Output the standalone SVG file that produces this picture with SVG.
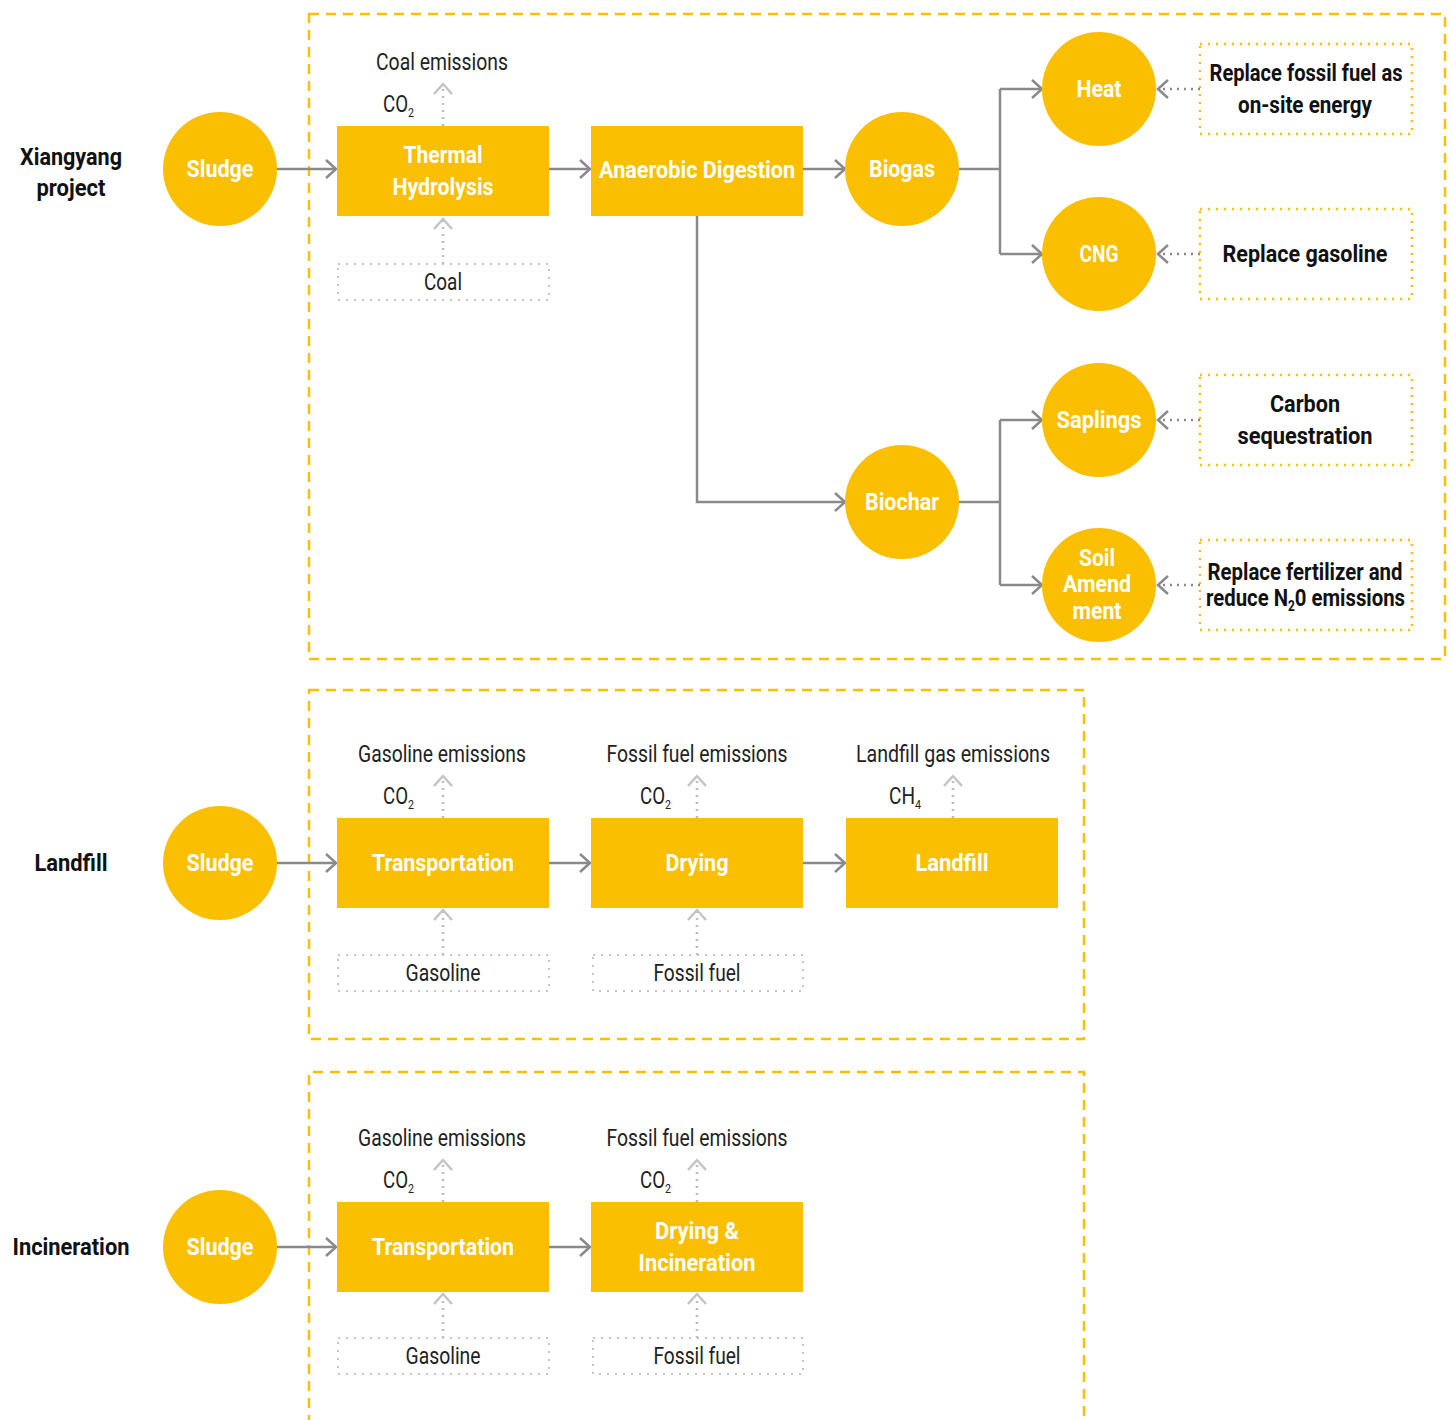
<svg xmlns="http://www.w3.org/2000/svg" width="1453" height="1420" viewBox="0 0 1453 1420">
<style>
.frame{fill:none;stroke:#F9BF00;stroke-width:2.5;stroke-dasharray:10 7}
.node{fill:#F9BF00}
.wt{font-family:Roboto,"Liberation Sans",sans-serif;font-weight:bold;font-size:24px;fill:#fff;text-anchor:middle}
.bt{font-family:Roboto,"Liberation Sans",sans-serif;font-weight:bold;font-size:24px;fill:#111;text-anchor:middle}
.rt{font-family:Roboto,"Liberation Sans",sans-serif;font-size:23px;fill:#222;text-anchor:middle}
.chem{font-family:Roboto,"Liberation Sans",sans-serif;font-size:23px;fill:#222;text-anchor:start}
.s{font-size:13px}
.conn{fill:none;stroke:#8a8a8a;stroke-width:2.5}
.dot{fill:none;stroke:#bdbdbd;stroke-width:2.5;stroke-dasharray:2 5}
.dotd{fill:none;stroke:#8a8a8a;stroke-width:2.5;stroke-dasharray:2 5}
.gbox{fill:none;stroke:#c4c4c4;stroke-width:2;stroke-dasharray:2 6}
.ybox{fill:none;stroke:#F9BF00;stroke-width:2.5;stroke-dasharray:2 6}
</style>
<defs>
<marker id="ah" markerUnits="userSpaceOnUse" viewBox="-14 -12 16 24" refX="0" refY="0" markerWidth="16" markerHeight="24" orient="auto">
<path d="M-10,-9 L0,0 L-10,9" fill="none" stroke="#8a8a8a" stroke-width="2.5"/>
</marker>
<marker id="ahl" markerUnits="userSpaceOnUse" viewBox="-14 -12 16 24" refX="0" refY="0" markerWidth="16" markerHeight="24" orient="auto">
<path d="M-10,-9 L0,0 L-10,9" fill="none" stroke="#c4c4c4" stroke-width="2.5"/>
</marker>
</defs>
<rect width="1453" height="1420" fill="#fff"/>

<!-- frames -->
<rect class="frame" x="309" y="14" width="1136" height="645"/>
<rect class="frame" x="309" y="690" width="775" height="349"/>
<path class="frame" d="M309,1425 L309,1072 L1084,1072 L1084,1425"/>

<!-- section labels -->
<g id="label-xiangyang"><text class="bt" x="71" y="165" textLength="102" lengthAdjust="spacingAndGlyphs">Xiangyang</text><text class="bt" x="71" y="196" textLength="69" lengthAdjust="spacingAndGlyphs">project</text></g>
<g id="label-landfill"><text class="bt" x="71" y="871" textLength="73" lengthAdjust="spacingAndGlyphs">Landfill</text></g>
<g id="label-incineration"><text class="bt" x="71" y="1255" textLength="117" lengthAdjust="spacingAndGlyphs">Incineration</text></g>

<!-- connectors -->
<g id="connectors">
<path class="conn" d="M277,169 H336" marker-end="url(#ah)"/>
<path class="conn" d="M549,169 H590" marker-end="url(#ah)"/>
<path class="conn" d="M803,169 H845" marker-end="url(#ah)"/>
<path class="conn" d="M959,169 H1000"/>
<path class="conn" d="M1000,89 V254"/>
<path class="conn" d="M1000,89 H1042" marker-end="url(#ah)"/>
<path class="conn" d="M1000,254 H1042" marker-end="url(#ah)"/>
<path class="conn" d="M697,216 V502 H845" marker-end="url(#ah)"/>
<path class="conn" d="M959,502 H1000"/>
<path class="conn" d="M1000,420 V585"/>
<path class="conn" d="M1000,420 H1042" marker-end="url(#ah)"/>
<path class="conn" d="M1000,585 H1042" marker-end="url(#ah)"/>
<path class="dotd" d="M1200,89 H1158" marker-end="url(#ah)"/>
<path class="dotd" d="M1200,254 H1158" marker-end="url(#ah)"/>
<path class="dotd" d="M1200,420 H1158" marker-end="url(#ah)"/>
<path class="dotd" d="M1200,585 H1158" marker-end="url(#ah)"/>
<path class="dot" d="M443,126 V84" marker-end="url(#ahl)"/>
<path class="dot" d="M443,264 V219" marker-end="url(#ahl)"/>

<path class="conn" d="M277,863 H336" marker-end="url(#ah)"/>
<path class="conn" d="M549,863 H590" marker-end="url(#ah)"/>
<path class="conn" d="M803,863 H845" marker-end="url(#ah)"/>
<path class="dot" d="M443,818 V776" marker-end="url(#ahl)"/>
<path class="dot" d="M697,818 V776" marker-end="url(#ahl)"/>
<path class="dot" d="M953,818 V776" marker-end="url(#ahl)"/>
<path class="dot" d="M443,955 V910" marker-end="url(#ahl)"/>
<path class="dot" d="M697,955 V910" marker-end="url(#ahl)"/>

<path class="conn" d="M277,1247 H336" marker-end="url(#ah)"/>
<path class="conn" d="M549,1247 H590" marker-end="url(#ah)"/>
<path class="dot" d="M443,1202 V1160" marker-end="url(#ahl)"/>
<path class="dot" d="M697,1202 V1160" marker-end="url(#ahl)"/>
<path class="dot" d="M443,1338 V1294" marker-end="url(#ahl)"/>
<path class="dot" d="M697,1338 V1294" marker-end="url(#ahl)"/>
</g>

<!-- Section 1 nodes -->
<g id="sludge1"><circle class="node" cx="220" cy="169" r="57"/><text class="wt" x="220" y="177" textLength="67" lengthAdjust="spacingAndGlyphs">Sludge</text></g>
<g id="coal-emissions"><text class="rt" x="442" y="70" textLength="132" lengthAdjust="spacingAndGlyphs">Coal emissions</text>
<text class="chem" x="383" y="112" textLength="31" lengthAdjust="spacingAndGlyphs">CO<tspan class="s" dy="5">2</tspan></text></g>
<g id="thermal-hydrolysis"><rect class="node" x="337" y="126" width="212" height="90"/><text class="wt" x="443" y="163" textLength="79" lengthAdjust="spacingAndGlyphs">Thermal</text><text class="wt" x="443" y="195" textLength="101" lengthAdjust="spacingAndGlyphs">Hydrolysis</text></g>
<g id="coal"><rect class="gbox" x="338" y="264" width="211" height="36"/><text class="rt" x="443" y="290" textLength="38" lengthAdjust="spacingAndGlyphs">Coal</text></g>
<g id="anaerobic-digestion"><rect class="node" x="591" y="126" width="212" height="90"/><text class="wt" x="697" y="178" textLength="196" lengthAdjust="spacingAndGlyphs">Anaerobic Digestion</text></g>
<g id="biogas"><circle class="node" cx="902" cy="169" r="57"/><text class="wt" x="902" y="177" textLength="66" lengthAdjust="spacingAndGlyphs">Biogas</text></g>
<g id="heat"><circle class="node" cx="1099" cy="89" r="57"/><text class="wt" x="1099" y="97" textLength="45" lengthAdjust="spacingAndGlyphs">Heat</text></g>
<g id="cng"><circle class="node" cx="1099" cy="254" r="57"/><text class="wt" x="1099" y="262" textLength="39" lengthAdjust="spacingAndGlyphs">CNG</text></g>
<g id="biochar"><circle class="node" cx="902" cy="502" r="57"/><text class="wt" x="902" y="510" textLength="74" lengthAdjust="spacingAndGlyphs">Biochar</text></g>
<g id="saplings"><circle class="node" cx="1099" cy="420" r="57"/><text class="wt" x="1099" y="428" textLength="85" lengthAdjust="spacingAndGlyphs">Saplings</text></g>
<g id="soil-amendment"><circle class="node" cx="1099" cy="585" r="57"/><text class="wt" x="1097" y="566" textLength="36" lengthAdjust="spacingAndGlyphs">Soil</text><text class="wt" x="1097" y="592" textLength="68" lengthAdjust="spacingAndGlyphs">Amend</text><text class="wt" x="1097" y="619" textLength="49" lengthAdjust="spacingAndGlyphs">ment</text></g>
<g id="replace-fossil"><rect class="ybox" x="1200" y="44" width="212" height="90"/><text class="bt" x="1306" y="81" textLength="193" lengthAdjust="spacingAndGlyphs">Replace fossil fuel as</text><text class="bt" x="1305" y="113" textLength="134" lengthAdjust="spacingAndGlyphs">on-site energy</text></g>
<g id="replace-gasoline"><rect class="ybox" x="1200" y="209" width="212" height="90"/><text class="bt" x="1305" y="262" textLength="165" lengthAdjust="spacingAndGlyphs">Replace gasoline</text></g>
<g id="carbon-seq"><rect class="ybox" x="1200" y="375" width="212" height="90"/><text class="bt" x="1305" y="412" textLength="70" lengthAdjust="spacingAndGlyphs">Carbon</text><text class="bt" x="1305" y="444" textLength="135" lengthAdjust="spacingAndGlyphs">sequestration</text></g>
<g id="replace-fertilizer"><rect class="ybox" x="1200" y="540" width="212" height="90"/><text class="bt" x="1305" y="580" textLength="195" lengthAdjust="spacingAndGlyphs">Replace fertilizer and</text>
<text class="bt" x="1206" y="606" style="text-anchor:start" textLength="199" lengthAdjust="spacingAndGlyphs">reduce N<tspan dy="5" style="font-size:14px">2</tspan><tspan dy="-5">0 emissions</tspan></text></g>

<!-- Section 2 nodes -->
<g id="sludge2"><circle class="node" cx="220" cy="863" r="57"/><text class="wt" x="220" y="871" textLength="67" lengthAdjust="spacingAndGlyphs">Sludge</text></g>
<g id="gasoline-emissions2"><text class="rt" x="442" y="762" textLength="168" lengthAdjust="spacingAndGlyphs">Gasoline emissions</text>
<text class="chem" x="383" y="804" textLength="31" lengthAdjust="spacingAndGlyphs">CO<tspan class="s" dy="5">2</tspan></text></g>
<g id="fossil-emissions2"><text class="rt" x="697" y="762" textLength="181" lengthAdjust="spacingAndGlyphs">Fossil fuel emissions</text>
<text class="chem" x="640" y="804" textLength="31" lengthAdjust="spacingAndGlyphs">CO<tspan class="s" dy="5">2</tspan></text></g>
<g id="landfill-emissions"><text class="rt" x="953" y="762" textLength="194" lengthAdjust="spacingAndGlyphs">Landfill gas emissions</text>
<text class="chem" x="889" y="804" textLength="32" lengthAdjust="spacingAndGlyphs">CH<tspan class="s" dy="5">4</tspan></text></g>
<g id="transportation2"><rect class="node" x="337" y="818" width="212" height="90"/><text class="wt" x="443" y="871" textLength="142" lengthAdjust="spacingAndGlyphs">Transportation</text></g>
<g id="drying"><rect class="node" x="591" y="818" width="212" height="90"/><text class="wt" x="697" y="871" textLength="63" lengthAdjust="spacingAndGlyphs">Drying</text></g>
<g id="landfill"><rect class="node" x="846" y="818" width="212" height="90"/><text class="wt" x="952" y="871" textLength="73" lengthAdjust="spacingAndGlyphs">Landfill</text></g>
<g id="gasoline2"><rect class="gbox" x="338" y="955" width="211" height="36"/><text class="rt" x="443" y="981" textLength="75" lengthAdjust="spacingAndGlyphs">Gasoline</text></g>
<g id="fossil2"><rect class="gbox" x="593" y="955" width="210" height="36"/><text class="rt" x="697" y="981" textLength="87" lengthAdjust="spacingAndGlyphs">Fossil fuel</text></g>

<!-- Section 3 nodes -->
<g id="sludge3"><circle class="node" cx="220" cy="1247" r="57"/><text class="wt" x="220" y="1255" textLength="67" lengthAdjust="spacingAndGlyphs">Sludge</text></g>
<g id="gasoline-emissions3"><text class="rt" x="442" y="1146" textLength="168" lengthAdjust="spacingAndGlyphs">Gasoline emissions</text>
<text class="chem" x="383" y="1188" textLength="31" lengthAdjust="spacingAndGlyphs">CO<tspan class="s" dy="5">2</tspan></text></g>
<g id="fossil-emissions3"><text class="rt" x="697" y="1146" textLength="181" lengthAdjust="spacingAndGlyphs">Fossil fuel emissions</text>
<text class="chem" x="640" y="1188" textLength="31" lengthAdjust="spacingAndGlyphs">CO<tspan class="s" dy="5">2</tspan></text></g>
<g id="transportation3"><rect class="node" x="337" y="1202" width="212" height="90"/><text class="wt" x="443" y="1255" textLength="142" lengthAdjust="spacingAndGlyphs">Transportation</text></g>
<g id="drying-incineration"><rect class="node" x="591" y="1202" width="212" height="90"/><text class="wt" x="697" y="1239" textLength="84" lengthAdjust="spacingAndGlyphs">Drying &amp;</text><text class="wt" x="697" y="1271" textLength="117" lengthAdjust="spacingAndGlyphs">Incineration</text></g>
<g id="gasoline3"><rect class="gbox" x="338" y="1338" width="211" height="36"/><text class="rt" x="443" y="1364" textLength="75" lengthAdjust="spacingAndGlyphs">Gasoline</text></g>
<g id="fossil3"><rect class="gbox" x="593" y="1338" width="210" height="36"/><text class="rt" x="697" y="1364" textLength="87" lengthAdjust="spacingAndGlyphs">Fossil fuel</text></g>
</svg>
